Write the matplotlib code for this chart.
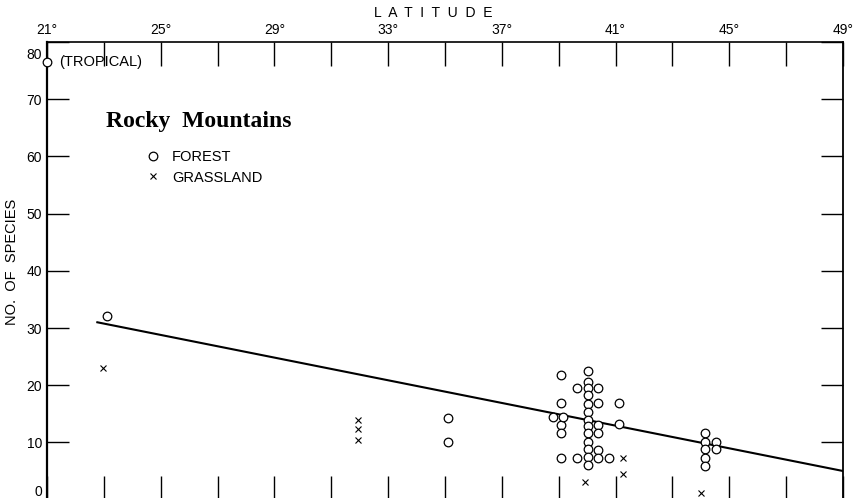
import matplotlib
matplotlib.use("Agg")
import matplotlib.pyplot as plt
from matplotlib.lines import Line2D
from matplotlib.transforms import ScaledTranslation

# ---- data ----
tropical_lat = [21.0]
tropical_n = [76.5]

forest_lat = [23.1,
              35.1, 35.1,
              39.07, 39.07, 39.07, 39.07, 39.07, 38.8, 39.16,
              40.03, 40.03, 40.03, 40.03, 40.03, 40.03, 40.03, 40.03, 40.03, 40.03, 40.03, 40.03, 40.03,
              39.63, 40.39, 40.39, 40.39, 40.39, 40.39, 40.39, 39.63, 40.78, 41.12, 41.12,
              44.14, 44.14, 44.14, 44.14, 44.14, 44.53, 44.53]
forest_n = [32.1,
            14.3, 10.0,
            21.7, 16.9, 13.0, 11.6, 7.2, 14.4, 14.5,
            22.5, 20.6, 19.5, 18.2, 16.7, 15.4, 14.0, 12.9, 11.6, 10.1, 8.8, 7.4, 6.1,
            19.5, 19.5, 16.9, 13.0, 11.6, 8.6, 7.2, 7.2, 7.2, 16.9, 13.2,
            11.6, 10.1, 8.8, 7.2, 5.9, 10.1, 8.8]

grass_lat = [22.96, 31.95, 31.95, 31.95, 41.27, 41.27, 39.94, 43.99]
grass_n = [23.0, 14.0, 12.3, 10.5, 7.2, 4.5, 3.0, 1.2]

line_lat = [22.77, 49.0]
line_n = [31.0, 5.0]

x_ticks = list(range(21, 50, 2))
x_labels = [f"{v}\u00b0" if (v - 21) % 4 == 0 else "" for v in x_ticks]
y_ticks = list(range(0, 81, 10))
y_labels = [str(v) for v in y_ticks]

# ---- figure ----
W, H, DPI = 863, 498, 100
fig = plt.figure(figsize=(W / DPI, H / DPI), dpi=DPI)
plt.rcParams['font.family'] = ['Liberation Sans', 'DejaVu Sans']

left_px, right_px, top_px, bottom_px = 47, 843, 42, 499.6
ax = fig.add_axes([left_px / W, 1 - bottom_px / H,
                   (right_px - left_px) / W, (bottom_px - top_px) / H])
ax.set_xlim(21, 49)
ax.set_ylim(0, 80)

for side in ['left', 'right', 'top', 'bottom']:
    ax.spines[side].set_color('black')
ax.spines['left'].set_linewidth(1.6)
ax.spines['right'].set_linewidth(1.3)
ax.spines['top'].set_linewidth(1.2)
ax.spines['bottom'].set_visible(False)

ax.set_xticks(x_ticks)
ax.set_xticklabels(x_labels)
ax.tick_params(axis='x', which='major', top=True, bottom=True, labeltop=True,
               labelbottom=False, direction='in', length=17, width=1.0,
               labelsize=10, pad=3.5, colors='black')
ax.set_yticks(y_ticks)
ax.set_yticklabels(y_labels)
ax.tick_params(axis='y', which='major', left=True, right=True, labelleft=True,
               labelright=False, direction='in', length=16, width=1.0,
               labelsize=10, pad=3.5, colors='black')
# shift the "80" label downward and the "0" label upward as in the reference
for lab in ax.get_yticklabels():
    if lab.get_text() == "80":
        lab.set_transform(lab.get_transform() +
                          ScaledTranslation(0, -8 / 72, fig.dpi_scale_trans))
    elif lab.get_text() == "0":
        lab.set_transform(lab.get_transform() +
                          ScaledTranslation(0, 6.5 / 72, fig.dpi_scale_trans))

# regression line
ax.plot(line_lat, line_n, color='black', lw=1.5, zorder=3)

# points
ax.plot(forest_lat, forest_n, linestyle='none', marker='o', ms=6.2,
        mfc='white', mec='black', mew=0.9, zorder=4)
ax.plot(grass_lat, grass_n, linestyle='none', marker='x', ms=4.5,
        mec='black', mew=0.8, zorder=4)
ax.plot(tropical_lat, tropical_n, linestyle='none', marker='o', ms=6.2,
        mfc='white', mec='black', mew=0.9, zorder=5, clip_on=False)
ax.text(21.42, 76.5, "(TROPICAL)", fontsize=10.5, va='center', ha='left')

# title
ax.text(23.08, 65.1, "Rocky  Mountains", fontsize=17, fontweight='bold',
        family='Liberation Serif', va='baseline', ha='left')

# legend
handles = [Line2D([], [], linestyle='none', marker='o', ms=6.2, mfc='white',
                  mec='black', mew=0.9),
           Line2D([], [], linestyle='none', marker='x', ms=4.5, mec='black',
                  mew=0.8)]
ax.legend(handles, ["FOREST", "GRASSLAND"], loc='upper left',
          bbox_to_anchor=(0.124, 0.763), frameon=False, fontsize=10.5,
          handlelength=1.0, handletextpad=0.8, labelspacing=0.42,
          borderpad=0, borderaxespad=0)

# axis titles
fig.text(433 / W, 1 - 13 / H, "L  A  T  I  T  U  D  E", fontsize=10,
         ha='center', va='center')
fig.text(12 / W, 1 - 262 / H, "NO.  OF  SPECIES", fontsize=10.5, rotation=90,
         ha='center', va='center')

fig.savefig("out.png", dpi=DPI, facecolor='white')
